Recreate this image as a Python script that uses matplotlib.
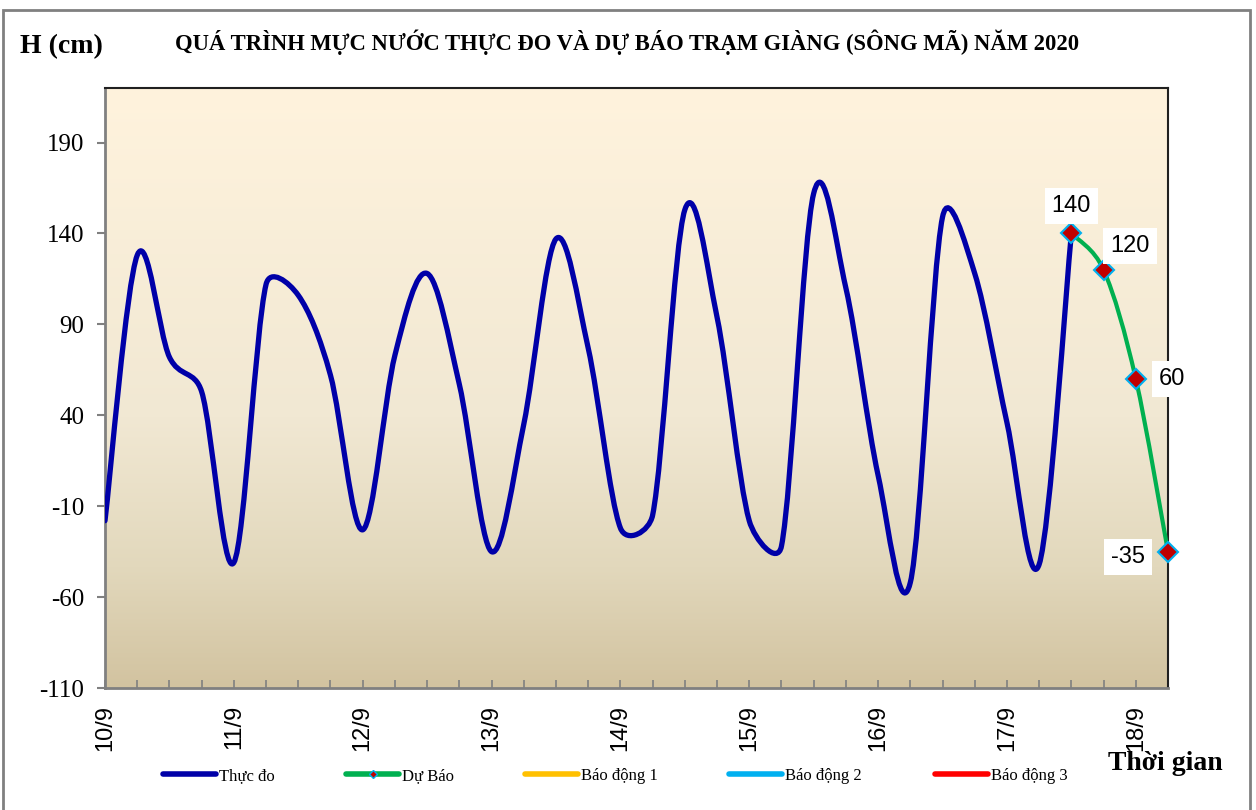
import matplotlib.pyplot as plt
import numpy as np
from matplotlib.path import Path
from matplotlib.patches import PathPatch, Rectangle
from matplotlib.lines import Line2D
from matplotlib.colors import LinearSegmentedColormap

# muc nuoc thuc do, moi 6 gio tu 10/9 00h
thuc_do = [-18, 128, 72, 53, -41, 112, 106, 62, -23, 73, 118, 57,
           -35, 35, 137, 77, -22, -15, 153, 94, -18, -32, 162, 110,
           7, -52, 149, 118, 36, -42, 140]
# du bao (bat dau tu diem cuoi cua thuc do)
du_bao = [140, 120, 60, -35]
du_bao_start = 30
day_labels = ["10/9", "11/9", "12/9", "13/9", "14/9", "15/9", "16/9", "17/9", "18/9"]
y_ticks = [-110, -60, -10, 40, 90, 140, 190]


def smooth_path(ax, xs, ys):
    # duong cong tron kieu Excel: Bezier, tiep tuyen 1/6, gioi han theo do dai doan (tren man hinh)
    pts = np.column_stack([xs, ys]).astype(float)
    scr = ax.transData.transform(pts)
    n = len(pts)
    verts = [pts[0]]
    codes = [Path.MOVETO]
    for i in range(n - 1):
        i0 = max(i - 1, 0)
        i3 = min(i + 2, n - 1)
        d12 = np.hypot(*(scr[i + 1] - scr[i]))
        d02 = np.hypot(*(scr[i + 1] - scr[i0]))
        d13 = np.hypot(*(scr[i3] - scr[i]))
        f1 = 1 / 6 if d02 / 6 < d12 / 2 else d12 / 2 / d02
        f2 = 1 / 6 if d13 / 6 < d12 / 2 else d12 / 2 / d13
        c1 = pts[i] + (pts[i + 1] - pts[i0]) * f1
        c2 = pts[i + 1] - (pts[i3] - pts[i]) * f2
        verts += [c1, c2, pts[i + 1]]
        codes += [Path.CURVE4] * 3
    return Path(verts, codes)


fig = plt.figure(figsize=(12.56, 8.10), dpi=100)
ax = fig.add_axes([105 / 1256, 1 - 688 / 810, 1063 / 1256, 600 / 810])

ymin, ymax = -110, 220
xmax = du_bao_start + len(du_bao) - 1
ax.set_xlim(0, xmax)
ax.set_ylim(ymin, ymax)

# nen gradient
cmap = LinearSegmentedColormap.from_list(
    "bg", [(0.0, "#FFF3DD"), (0.55, "#F1E8D3"), (0.8, "#E2D8BC"), (1.0, "#D2C3A0")])
grad = np.linspace(0, 1, 256).reshape(-1, 1)
ax.imshow(grad, cmap=cmap, aspect="auto", extent=[0, xmax, ymin, ymax],
          zorder=0, interpolation="bicubic")
ax.set_xlim(0, xmax)
ax.set_ylim(ymin, ymax)

x_td = np.arange(len(thuc_do))
ax.add_patch(PathPatch(smooth_path(ax, x_td, thuc_do), fill=False,
                       edgecolor="#0000A8", lw=3.8, capstyle="round",
                       joinstyle="round", zorder=3))

x_db = np.arange(du_bao_start, du_bao_start + len(du_bao))
ax.add_patch(PathPatch(smooth_path(ax, x_db, du_bao), fill=False,
                       edgecolor="#00B050", lw=3.0, zorder=4))
ax.plot(x_db, du_bao, ls="none", marker="D", ms=10, mfc="#C00000",
        mec="#00B0F0", mew=1.5, zorder=5, clip_on=False)

offsets = [(0, 20), (19, 17), (26, 0), (-29, -4)]
for xv, yv, off in zip(x_db, du_bao, offsets):
    ax.annotate(str(yv), (xv, yv), xytext=off, textcoords="offset points",
                ha="center", va="center", fontsize=17, family="Liberation Sans",
                bbox=dict(boxstyle="square,pad=0.3", fc="white", ec="none"),
                zorder=6, annotation_clip=False)

# truc
ax.set_yticks(y_ticks)
ax.set_yticklabels([str(v) for v in y_ticks], family="Liberation Serif", fontsize=18)
ax.tick_params(axis="y", direction="out", length=6, width=1.5, color="#808080", pad=9)
ax.set_xticks(np.arange(0, 4 * len(day_labels), 4))
ax.set_xticklabels(day_labels, rotation=90, family="Liberation Sans", fontsize=17)
ax.set_xticks(np.arange(0, xmax + 1), minor=True)
ax.tick_params(axis="x", which="both", direction="in", length=6, width=1.2,
               color="#808080", pad=12)
for s in ["left", "bottom"]:
    ax.spines[s].set_color("#808080")
    ax.spines[s].set_linewidth(2)
for s in ["top", "right"]:
    ax.spines[s].set_color("#202020")
    ax.spines[s].set_linewidth(1.5)

# chu
fig.text(627 / 1256, 1 - 42 / 810,
         "QUÁ TRÌNH MỰC NƯỚC THỰC ĐO VÀ DỰ BÁO TRẠM GIÀNG (SÔNG MÃ) NĂM 2020",
         ha="center", va="center", family="Liberation Serif", weight="bold", fontsize=16.3)
fig.text(20 / 1256, 1 - 47 / 810, "H (cm)", ha="left", va="center",
         family="Liberation Serif", weight="bold", fontsize=20)
fig.text(1165 / 1256, 1 - 764 / 810, "Thời gian", ha="center", va="center",
         family="Liberation Serif", weight="bold", fontsize=20)

# chu giai
legend_items = [
    ("Thực đo", Line2D([], [], color="#0000A8", lw=4, solid_capstyle="round"), 163),
    ("Dự Báo", Line2D([], [], color="#00B050", lw=4, marker="D", ms=4,
                      mfc="#C00000", mec="#00B0F0", solid_capstyle="round"), 346),
    ("Báo động 1", Line2D([], [], color="#FFC000", lw=4, solid_capstyle="round"), 525),
    ("Báo động 2", Line2D([], [], color="#00B0F0", lw=4, solid_capstyle="round"), 729),
    ("Báo động 3", Line2D([], [], color="#FF0000", lw=4, solid_capstyle="round"), 935),
]
for lab, h, xl in legend_items:
    fig.legend([h], [lab], loc="center left", bbox_to_anchor=(xl / 1256, 1 - 776 / 810),
               frameon=False, prop={"family": "Liberation Serif", "size": 12},
               handlelength=3.2, handletextpad=0.15, borderpad=0, borderaxespad=0)

# khung ngoai
fig.patches.append(Rectangle((3 / 1256, -0.05), 1247 / 1256, 1.05 - 10 / 810,
                             transform=fig.transFigure, fill=False,
                             ec="#808080", lw=2))

fig.savefig("out.png", dpi=100)
